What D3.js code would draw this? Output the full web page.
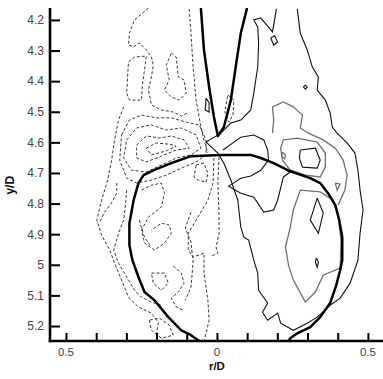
<!DOCTYPE html>
<html><head><meta charset="utf-8">
<script src="https://cdn.jsdelivr.net/npm/d3@7"></script>
<style>body{margin:0;background:#fff}svg{display:block}</style>
</head><body><div id="chart"></div>
<script>
// ---- axis data ----
const xDomain = [-0.553, 0.55];
const yDomain = [4.161, 5.249];
const xTicks = [-0.5,-0.4,-0.3,-0.2,-0.1,0,0.1,0.2,0.3,0.4,0.5];
const xLabelValues = [-0.5, 0, 0.5];
const xLabelTexts = ["0.5", "0", "0.5"];
const yTicks = [4.2,4.3,4.4,4.5,4.6,4.7,4.8,4.9,5.0,5.1,5.2];
const yLabelTexts = ["4.2","4.3","4.4","4.5","4.6","4.7","4.8","4.9","5","5.1","5.2"];

// ---- thick contour lines (r/D, y/D) ----
const thickV = [[-0.053,4.164],[-0.043,4.298],[-0.026,4.419],[-0.010,4.517],[0.003,4.579],[0.023,4.550],[0.046,4.462],[0.062,4.354],[0.079,4.243],[0.099,4.164]];
const thickLoop = [[-0.059,5.249],[-0.086,5.230],[-0.118,5.214],[-0.161,5.171],[-0.207,5.116],[-0.240,5.089],[-0.260,5.040],[-0.280,4.985],[-0.290,4.936],[-0.290,4.864],[-0.276,4.789],[-0.260,4.733],[-0.243,4.707],[-0.207,4.690],[-0.141,4.664],[-0.086,4.645],[0.013,4.641],[0.112,4.641],[0.145,4.651],[0.188,4.668],[0.234,4.691],[0.309,4.717],[0.342,4.733],[0.368,4.766],[0.392,4.805],[0.405,4.854],[0.415,4.910],[0.415,4.985],[0.408,5.018],[0.395,5.067],[0.375,5.125],[0.342,5.171],[0.309,5.204],[0.266,5.224],[0.243,5.240],[0.237,5.249]];

// ---- thin solid (black) contours ----
const solidOuter = [[0.266,4.164],[0.276,4.243],[0.299,4.298],[0.316,4.354],[0.336,4.386],[0.332,4.429],[0.359,4.462],[0.375,4.504],[0.382,4.550],[0.398,4.570],[0.431,4.602],[0.457,4.635],[0.467,4.691],[0.474,4.756],[0.484,4.821],[0.474,4.897],[0.467,4.985],[0.441,5.060],[0.408,5.109],[0.375,5.132],[0.332,5.171],[0.299,5.191],[0.253,5.214],[0.211,5.191],[0.201,5.158],[0.168,5.181],[0.151,5.155],[0.168,5.125],[0.138,5.083],[0.135,5.027],[0.122,4.985],[0.105,4.919],[0.089,4.910],[0.079,4.877],[0.069,4.789],[0.046,4.723],[0.023,4.668],[0.003,4.635],[-0.036,4.599],[0.013,4.570],[0.046,4.537],[0.079,4.527],[0.112,4.494],[0.122,4.439],[0.135,4.354],[0.138,4.275],[0.135,4.223],[0.122,4.200],[0.145,4.193],[0.184,4.239],[0.197,4.164]];
const solidDiamondTop = [[0.178,4.259],[0.188,4.282],[0.201,4.272],[0.191,4.252],[0.178,4.259]];
const solidDot = [[0.286,4.419],[0.293,4.413],[0.299,4.419],[0.293,4.426],[0.286,4.419]];
const solidPeakInner = [[0.276,4.625],[0.326,4.619],[0.342,4.658],[0.332,4.684],[0.283,4.681],[0.273,4.651],[0.276,4.625]];
const solidDiamondMid = [[0.332,4.782],[0.352,4.831],[0.336,4.897],[0.309,4.854],[0.332,4.782]];
const solidSmallLow = [[0.329,4.978],[0.336,4.991],[0.332,5.008],[0.326,4.991],[0.329,4.978]];
const solidVLoop = [[-0.036,4.455],[-0.026,4.471],[-0.026,4.501],[-0.039,4.494],[-0.036,4.455]];
const solidWedge = [[0.020,4.625],[0.079,4.583],[0.122,4.576],[0.155,4.592],[0.168,4.625],[0.171,4.658],[0.145,4.691],[0.112,4.710],[0.079,4.717],[0.039,4.743],[0.079,4.766],[0.122,4.779],[0.155,4.828],[0.188,4.821],[0.201,4.789],[0.220,4.713],[0.243,4.697]];

// ---- thin solid (grey) contours ----
const greyPeakUpper = [[0.184,4.570],[0.188,4.527],[0.184,4.484],[0.220,4.468],[0.253,4.484],[0.283,4.511],[0.276,4.553],[0.303,4.570],[0.352,4.592],[0.392,4.619],[0.418,4.658],[0.431,4.707],[0.424,4.756],[0.401,4.805]];
const greyPeakOuter = [[0.220,4.592],[0.266,4.586],[0.332,4.599],[0.359,4.635],[0.359,4.681],[0.342,4.713],[0.293,4.707],[0.243,4.691],[0.217,4.658],[0.211,4.619],[0.220,4.592]];
const greySmall = [[0.217,4.632],[0.227,4.641],[0.224,4.654],[0.214,4.645],[0.217,4.632]];
const greyInner = [[0.276,4.756],[0.253,4.821],[0.243,4.877],[0.227,4.942],[0.237,5.001],[0.253,5.050],[0.293,5.122],[0.326,5.089],[0.352,5.034],[0.408,5.011],[0.411,4.919],[0.401,4.838],[0.385,4.789],[0.342,4.762],[0.276,4.756]];
const greyTriangle = [[0.392,4.733],[0.408,4.736],[0.398,4.756],[0.392,4.733]];

// ---- dashed (negative) contours ----
const dashTopLeft = [[-0.227,4.161],[-0.273,4.200],[-0.290,4.243],[-0.293,4.282],[-0.276,4.288],[-0.257,4.275],[-0.234,4.298],[-0.217,4.321],[-0.211,4.347],[-0.217,4.386],[-0.227,4.429],[-0.217,4.478],[-0.184,4.494],[-0.145,4.501],[-0.118,4.514],[-0.098,4.504]];
const dashLoopA = [[-0.293,4.337],[-0.273,4.321],[-0.234,4.318],[-0.240,4.364],[-0.247,4.413],[-0.250,4.462],[-0.290,4.462],[-0.299,4.439],[-0.296,4.386],[-0.293,4.337]];
const dashOuterLeft = [[-0.309,4.484],[-0.326,4.527],[-0.339,4.592],[-0.349,4.658],[-0.362,4.723],[-0.382,4.789],[-0.398,4.854],[-0.382,4.903],[-0.355,4.952],[-0.339,4.995],[-0.316,5.050],[-0.293,5.106],[-0.260,5.138],[-0.217,5.158],[-0.194,5.188],[-0.201,5.230]];
const dashSecondLeft = [[-0.299,4.756],[-0.303,4.805],[-0.309,4.854],[-0.326,4.897],[-0.342,4.952],[-0.326,4.995],[-0.299,5.040],[-0.273,5.083],[-0.250,5.106],[-0.217,5.122],[-0.184,5.132]];
const dashExtraLeft = [[-0.332,4.733],[-0.332,4.766],[-0.349,4.798],[-0.372,4.828],[-0.388,4.860]];
const dashInsideLeft = [[-0.257,4.854],[-0.240,4.910],[-0.217,4.942]];
const dashInnerWiggle = [[-0.250,4.756],[-0.217,4.740],[-0.184,4.733],[-0.174,4.766],[-0.184,4.811],[-0.227,4.844],[-0.250,4.887],[-0.240,4.929],[-0.207,4.952],[-0.174,4.929],[-0.151,4.897],[-0.158,4.870],[-0.184,4.864],[-0.217,4.887]];
const dashLoopB = [[-0.217,5.027],[-0.174,5.027],[-0.161,5.060],[-0.184,5.083],[-0.211,5.060],[-0.217,5.027]];
const dashLoopC = [[-0.145,5.004],[-0.118,5.027],[-0.109,5.060],[-0.128,5.089],[-0.151,5.109],[-0.135,5.138],[-0.112,5.148]];
const dashCenter = [[-0.010,4.651],[-0.013,4.733],[-0.030,4.789],[-0.063,4.844],[-0.095,4.897],[-0.095,4.952],[-0.079,4.975],[-0.043,4.962],[-0.043,5.027],[-0.030,5.116],[-0.026,5.181],[-0.036,5.224],[-0.043,5.249]];
const dashCenterRight = [[0.007,4.648],[0.003,4.733],[0.007,4.844],[0.007,4.897],[-0.003,4.942],[0.003,4.962],[-0.020,4.972]];
const dashCenterLeft = [[-0.086,4.828],[-0.105,4.880],[-0.086,4.926],[-0.079,4.991],[-0.086,5.073],[-0.105,5.116]];
const dashLoopD = [[-0.069,4.674],[-0.043,4.668],[-0.030,4.700],[-0.036,4.730],[-0.063,4.723],[-0.076,4.713],[-0.069,4.674]];
const dashLoopBottom = [[-0.224,5.181],[-0.217,5.214],[-0.184,5.240],[-0.145,5.230],[-0.158,5.197],[-0.191,5.174],[-0.224,5.181]];
const dashVLeft = [[-0.092,4.164],[-0.086,4.243],[-0.079,4.354],[-0.069,4.462],[-0.053,4.550],[-0.043,4.592],[-0.030,4.635]];
const dashVRight = [[0.036,4.445],[0.056,4.462],[0.053,4.511],[0.039,4.534],[0.026,4.501],[0.036,4.445]];
const dashLoopTop = [[-0.151,4.308],[-0.135,4.321],[-0.128,4.386],[-0.109,4.396],[-0.102,4.439],[-0.125,4.462],[-0.151,4.452],[-0.174,4.429],[-0.158,4.396],[-0.168,4.347],[-0.151,4.308]];
const dashCluster0 = [[-0.316,4.576],[-0.290,4.527],[-0.250,4.511],[-0.201,4.520],[-0.151,4.520],[-0.102,4.534],[-0.059,4.543],[-0.036,4.592],[-0.036,4.641],[-0.069,4.664],[-0.118,4.684],[-0.168,4.707],[-0.217,4.723],[-0.266,4.733],[-0.299,4.717],[-0.322,4.658],[-0.316,4.576]];
const dashCluster1 = [[-0.299,4.592],[-0.266,4.553],[-0.217,4.543],[-0.168,4.560],[-0.118,4.553],[-0.069,4.576],[-0.053,4.619],[-0.086,4.641],[-0.135,4.651],[-0.184,4.674],[-0.234,4.697],[-0.283,4.691],[-0.309,4.651],[-0.299,4.592]];
const dashCluster2 = [[-0.266,4.609],[-0.234,4.579],[-0.191,4.586],[-0.151,4.579],[-0.109,4.592],[-0.092,4.619],[-0.135,4.625],[-0.184,4.645],[-0.234,4.664],[-0.266,4.651],[-0.266,4.609]];
const dashCluster3 = [[-0.234,4.619],[-0.201,4.602],[-0.158,4.606],[-0.135,4.612],[-0.168,4.628],[-0.217,4.641],[-0.234,4.619]];

const thickLines = [thickV, thickLoop];
const blackLines = [solidOuter, solidDiamondTop, solidDot, solidPeakInner, solidDiamondMid, solidSmallLow, solidVLoop, solidWedge];
const greyLines = [greyPeakUpper, greyPeakOuter, greySmall, greyInner, greyTriangle];
const dashedLines = [dashTopLeft, dashLoopA, dashOuterLeft, dashSecondLeft, dashExtraLeft, dashInsideLeft, dashInnerWiggle, dashLoopB, dashLoopC, dashCenter, dashCenterRight, dashCenterLeft, dashLoopD, dashLoopBottom, dashVLeft, dashVRight, dashLoopTop, dashCluster0, dashCluster1, dashCluster2, dashCluster3];

// ---- drawing ----
const W = 383, H = 379;
const pL = 50, pR = 383, pT = 8, pB = 341;
const svg = d3.select("#chart").append("svg").attr("width", W).attr("height", H);
const x = d3.scaleLinear().domain(xDomain).range([pL, pR]);
const y = d3.scaleLinear().domain(yDomain).range([pT, pB]);

svg.append("clipPath").attr("id","clip").append("rect")
  .attr("x", pL).attr("y", pT).attr("width", pR-pL).attr("height", pB-pT);

const line = d3.line().x(d => x(d[0])).y(d => y(d[1]));
const g = svg.append("g").attr("clip-path","url(#clip)");

g.selectAll("path.dash").data(dashedLines).join("path").attr("class","dash")
  .attr("d", line).attr("fill","none").attr("stroke","#3a3a3a").attr("stroke-width",1)
  .attr("stroke-dasharray","3,2");
g.selectAll("path.grey").data(greyLines).join("path").attr("class","grey")
  .attr("d", line).attr("fill","none").attr("stroke","#707070").attr("stroke-width",1.3);
g.selectAll("path.black").data(blackLines).join("path").attr("class","black")
  .attr("d", line).attr("fill","none").attr("stroke","#111").attr("stroke-width",1.1);
g.selectAll("path.thick").data(thickLines).join("path").attr("class","thick")
  .attr("d", line).attr("fill","none").attr("stroke","#000").attr("stroke-width",2.5)
  .attr("stroke-linejoin","round").attr("stroke-linecap","round");

// axes
const yAxis = d3.axisRight(y).tickValues(yTicks).tickSize(10).tickFormat("");
const yg = svg.append("g").attr("transform",`translate(${pL},0)`).call(yAxis);
yg.select(".domain").remove();
yg.selectAll("line").attr("stroke","#000").attr("stroke-width",2);

const xAxis = d3.axisTop(x).tickValues(xTicks).tickSize(8).tickFormat("");
const xg = svg.append("g").attr("transform",`translate(0,${pB})`).call(xAxis);
xg.select(".domain").remove();
xg.selectAll("line").attr("stroke","#000").attr("stroke-width",2);

svg.append("line").attr("x1",pL).attr("x2",pL).attr("y1",pT).attr("y2",pB+1.3)
  .attr("stroke","#000").attr("stroke-width",2.6);
svg.append("line").attr("x1",pL-1.3).attr("x2",pR).attr("y1",pB).attr("y2",pB)
  .attr("stroke","#000").attr("stroke-width",2.6);

// tick labels
svg.selectAll("text.yl").data(yTicks).join("text").attr("class","yl")
  .attr("x", pL-6).attr("y", d => y(d)).attr("dy","0.36em")
  .attr("text-anchor","end").attr("font-family","Liberation Sans, Arial, sans-serif")
  .attr("font-size",12).attr("fill","#444").text((d,i) => yLabelTexts[i]);
svg.selectAll("text.xl").data(xLabelValues).join("text").attr("class","xl")
  .attr("x", d => x(d)).attr("y", pB+15)
  .attr("text-anchor","middle").attr("font-family","Liberation Sans, Arial, sans-serif")
  .attr("font-size",11.5).attr("fill","#444").text((d,i) => xLabelTexts[i]);

// axis titles
svg.append("text").attr("x", x(0)).attr("y", pB+29).attr("text-anchor","middle")
  .attr("font-family","Liberation Sans, Arial, sans-serif").attr("font-size",11.5)
  .attr("font-weight","bold").attr("fill","#111").text("r/D");
svg.append("text").attr("transform",`translate(14,${y(4.74)}) rotate(-90)`).attr("text-anchor","middle")
  .attr("font-family","Liberation Sans, Arial, sans-serif").attr("font-size",12)
  .attr("font-weight","bold").attr("fill","#111").text("y/D");
</script></body></html>
